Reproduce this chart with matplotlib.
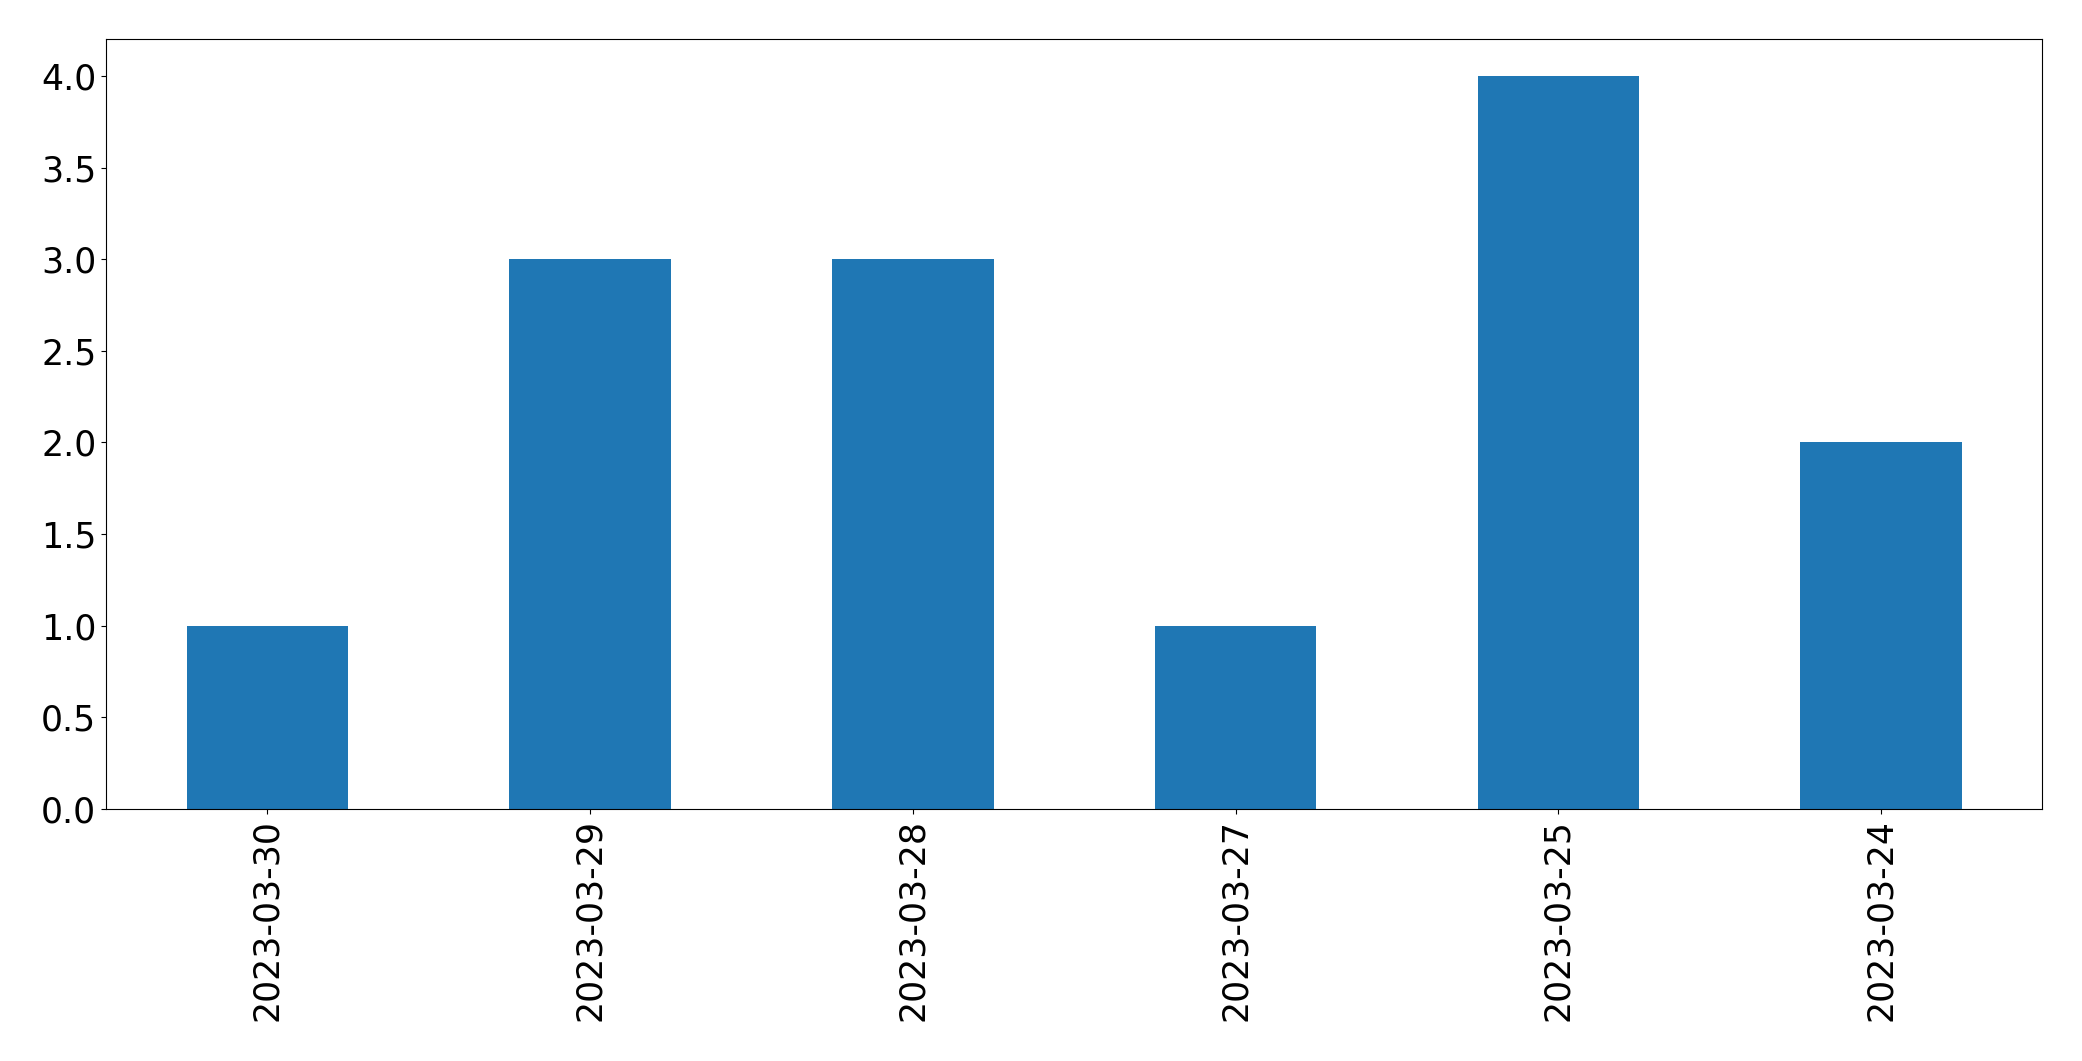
import matplotlib
matplotlib.use("Agg")
import matplotlib.pyplot as plt
import numpy as np

# dates in the order shown on the chart
dates = ["2023-03-30", "2023-03-29", "2023-03-28", "2023-03-27", "2023-03-25", "2023-03-24"]
counts = [1, 3, 3, 1, 4, 2]

fig, ax = plt.subplots(figsize=(20.82, 10.61), dpi=100)
fig.subplots_adjust(left=0.0509, right=0.981, top=0.963, bottom=0.2375)

x = np.arange(len(dates))
ax.bar(x, counts, width=0.5, color="#1f77b4")
ax.set_xlim(-0.5, len(dates) - 0.5)
ax.set_ylim(0, 4.2)
ax.set_xticks(x)
ax.set_xticklabels(dates, rotation=90)
ax.set_yticks(np.arange(0, 4.5, 0.5))
ax.tick_params(labelsize=25)

fig.savefig("out.png", dpi=100)
